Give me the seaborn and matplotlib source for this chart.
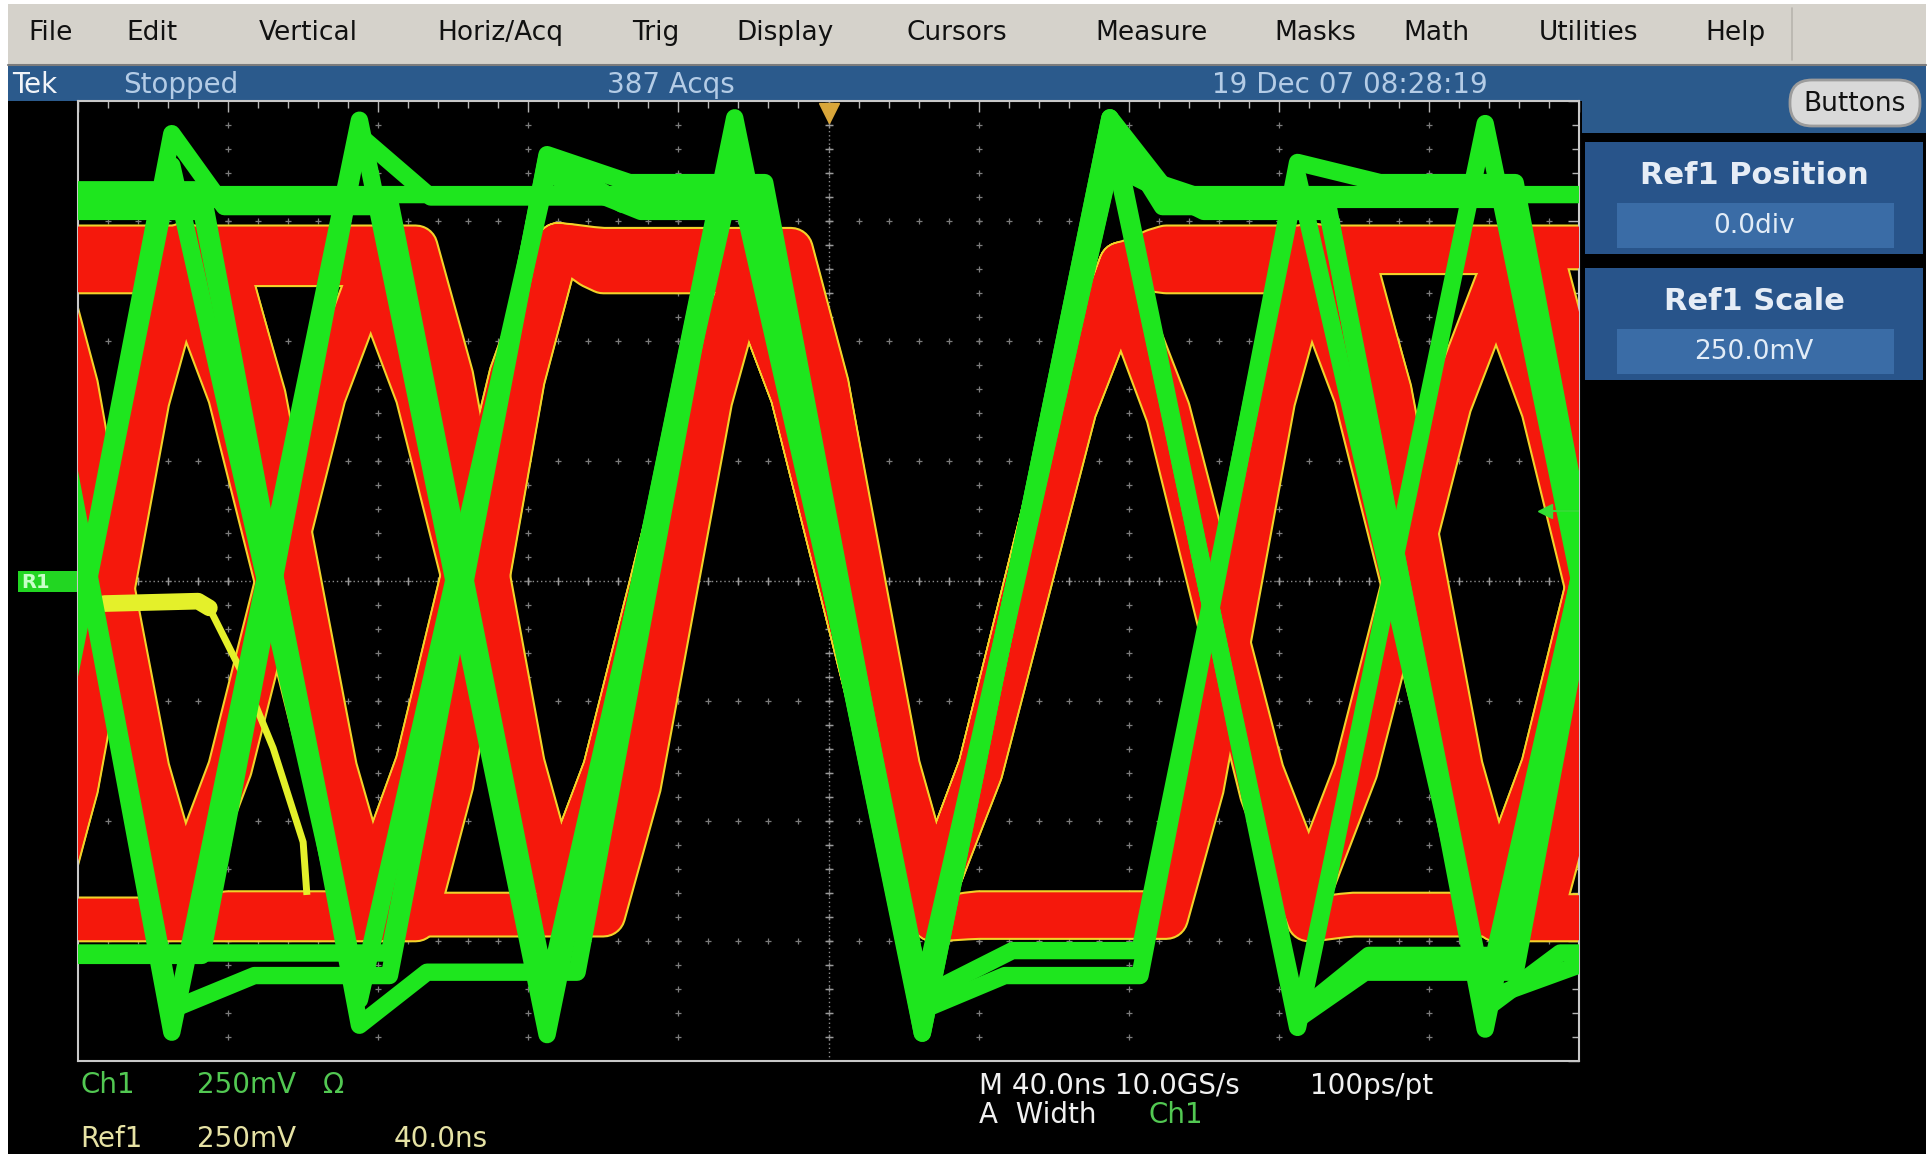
import numpy as np
import pandas as pd
import seaborn as sns
import matplotlib
matplotlib.use('Agg')
from matplotlib import pyplot as plt
from matplotlib.patches import Rectangle, FancyBboxPatch

# ---- screen texts ----
menu_labels = ['File', 'Edit', 'Vertical', 'Horiz/Acq', 'Trig', 'Display',
               'Cursors', 'Measure', 'Masks', 'Math', 'Utilities', 'Help']
status_labels = ['Tek', 'Stopped', '387 Acqs', '19 Dec 07 08:28:19']
panel_titles = ['Ref1 Position', 'Ref1 Scale']
panel_values = ['0.0div', '250.0mV']
ch1_readout = ['Ch1', '250mV', 'Ω']
ref1_readout = ['Ref1', '250mV', '40.0ns']
horiz_readout = ['M 40.0ns 10.0GS/s', '100ps/pt']
trig_readout = ['A  Width', 'Ch1']

# ---- scope data ----
ns_per_div = 40
mv_per_div = 250
bit_ns = 50  # spacing of the eye crossings

# bit before the screen, the 8 bits on screen, bit after
bits_a = [1, 1, 1, 1, 1, 0, 1, 1, 1, 1]
bits_b = [0, 1, 0, 1, 1, 0, 0, 1, 0, 1]
bits_c = [1, 0, 1, 0, 1, 0, 1, 0, 1, 0]
bits_d = [0, 0, 0, 1, 1, 0, 1, 1, 0, 0]
bits_e = [1, 1, 0, 0, 1, 0, 1, 0, 0, 1]
bits_f = [1, 1, 1, 0, 1, 0, 1, 1, 1, 0]
bits_f2 = [1, 1, 1, 0, 1, 0, 1, 1, 1, 1]
bits_g = [0, 1, 1, 0, 1, 0, 1, 1, 0, 1]
bits_h = [1, 0, 0, 1, 1, 0, 0, 1, 1, 0]
bits_i = [0, 0, 1, 1, 1, 0, 1, 0, 0, 1]
bits_j = [1, 1, 0, 1, 1, 0, 1, 1, 0, 0]

# Ch1 (green), mV / ns: settled level, share of overshoot and settling time
# per trace, overshoot tip per bit slot
ch1_bits = [bits_a, bits_b, bits_c, bits_d, bits_e, bits_f,
            bits_g, bits_h, bits_i, bits_j]
ch1_high = [805, 775, 825, 785, 815, 795, 780, 830, 800, 770]
ch1_low = [-785, -770, -810, -775, -815, -795, -772, -822, -780, -800]
ch1_over = [1.0, 0.55, 1.0, 0.7, 0.85, 0.4, 0.95, 0.6, 0.8, 0.5]
ch1_settle = [16, 24, 12, 20, 18, 26, 14, 22, 19, 25]
ch1_peak = [940, 940, 960, 927, 965, 950, 965, 900, 953, 953]
ch1_trough = [-940, -940, -945, -945, -940, -942, -940, -930, -942, -942]
ch1_edge = []  # straight edges

# Ref1 (red), mV / ns
ref_bits = [bits_b, bits_c, bits_d, bits_e, bits_f2, bits_g, bits_h, bits_j]
ref_high = [690, 640, 670, 650, 695, 660, 685, 645]
ref_low = [-700, -690, -705, -695, -700, -710, -692, -698]
ref_over = [1.0, 1.0, 1.0, 1.0, 1.0, 1.0, 1.0, 1.0]
ref_settle = [12, 12, 12, 12, 12, 12, 12, 12]
ref_peak = [700, 700, 700, 700, 700, 700, 660, 700, 675, 675]
ref_trough = [-705, -705, -705, -705, -705, -705, -705, -705, -705, -705]
ref_edge = [0.2, 0.5, 0.8]  # share of the swing at 1/4, 1/2, 3/4 of an edge

# short yellow trace at the left (ns, mV)
yel_t = [-193, -168, -165, -156, -148, -140, -139]
yel_v = [-47, -42, -56, -196, -348, -544, -654]


def trace(bits, high, low, over, settle, peaks, troughs, shift, depart, pulse, edge):
    # corner points of one acquisition: bit centres, settle and departure points
    pts = []
    n = len(bits)
    for k, b in enumerate(bits):
        c = -225 + bit_ns * k + shift
        flat = high if b else low
        into = k > 0 and bits[k - 1] != b
        out = k + 1 < n and bits[k + 1] != b
        if into:
            tip = flat + over * ((peaks[k] if b else troughs[k]) - flat)
            pts.append((c, tip * pulse if out else tip, True))
            if not out and k + 1 < n:
                pts.append((c + settle, flat, False))
        else:
            pts.append((c, flat, False))
            if out:
                pts.append((c + depart, flat, True))
    t, v = [], []
    for i, (ti, vi, starts_edge) in enumerate(pts):
        t.append(ti)
        v.append(vi)
        if starts_edge and i + 1 < len(pts) and edge:
            tn, vn, _ = pts[i + 1]
            for j, f in enumerate(edge, start=1):
                t.append(ti + (tn - ti) * j / (len(edge) + 1))
                v.append(vi + (vn - vi) * f)
    return t, v


def frame(all_bits, highs, lows, overs, settles, peaks, troughs, **kw):
    parts = []
    rows = zip(all_bits, highs, lows, overs, settles)
    for i, (bits, hi, lo, ov, st) in enumerate(rows):
        t, v = trace(bits, hi, lo, ov, st, peaks, troughs, **kw)
        parts.append(pd.DataFrame({'t': t, 'v': v, 'trace': i}))
    return pd.concat(parts, ignore_index=True)


ch1 = frame(ch1_bits, ch1_high, ch1_low, ch1_over, ch1_settle, ch1_peak,
            ch1_trough, shift=0, depart=8, pulse=1.0, edge=ch1_edge)
ref = frame(ref_bits, ref_high, ref_low, ref_over, ref_settle, ref_peak,
            ref_trough, shift=3, depart=12, pulse=0.92, edge=ref_edge)

GREEN = '#1ee61e'
RED = '#f5180c'
EDGE = '#f2d22a'
BLUE = '#2b5a8c'

sns.set_style('dark', {'axes.facecolor': 'black'})
plt.rcParams['font.family'] = ['DejaVu Sans']

W, H = 1932, 1154
fig = plt.figure(figsize=(W / 100, H / 100), dpi=100)
fig.patch.set_facecolor('white')

# ---- window chrome (pixel coords) ----
bg = fig.add_axes([0, 0, 1, 1])
bg.set_xlim(0, W)
bg.set_ylim(H, 0)
bg.axis('off')
bg.add_patch(Rectangle((8, 4), 1918, 61, fc='#d5d2cb', ec='none'))
bg.plot([8, 1926], [65, 65], color='#7c7c7c', lw=1.5)
bg.plot([1792, 1792], [8, 60], color='#b8b5ae', lw=1.2)
bg.add_patch(Rectangle((8, 66), 1918, 35, fc=BLUE, ec='none'))
bg.add_patch(Rectangle((8, 101), 1918, H - 101, fc='black', ec='none'))
bg.add_patch(Rectangle((1582, 101), 344, 32, fc=BLUE, ec='none'))

menu_x = [28, 126, 259, 437, 632, 736, 906, 1095, 1274, 1403, 1539, 1705]
for x, s in zip(menu_x, menu_labels):
    bg.text(x, 33, s, fontsize=19, color='#111111', va='center', ha='left')

status_x = [12, 123, 607, 1212]
status_c = ['#f2f4f8', '#b4cce6', '#b4cce6', '#b4cce6']
for x, s, c in zip(status_x, status_labels, status_c):
    bg.text(x, 85, s, fontsize=20, color=c, va='center', ha='left')

bg.add_patch(FancyBboxPatch((1790, 80), 130, 46,
                            boxstyle='round,pad=0,rounding_size=22',
                            fc='#d9d9d9', ec='#9c9c9c', lw=2))
bg.text(1855, 104, 'Buttons', fontsize=19, color='#111111', ha='center', va='center')

for top, title, val in zip([142, 268], panel_titles, panel_values):
    bg.add_patch(Rectangle((1585, top), 338, 112, fc='#28548a', ec='none'))
    bg.add_patch(Rectangle((1617, top + 61), 277, 45, fc='#3a6ca6', ec='none'))
    bg.text(1754, top + 33, title, fontsize=22, fontweight='bold',
            color='#e6edf6', ha='center', va='center')
    bg.text(1754, top + 84, val, fontsize=19, color='#e2ecf7',
            ha='center', va='center')

# R1 ground marker at the left of the graticule
bg.add_patch(Rectangle((18, 571), 60, 21, fc='#22d622', ec='none'))
bg.text(21, 582, 'R1', fontsize=14, fontweight='bold', color='#c8ffc8',
        ha='left', va='center')

# readouts below the graticule
for x, s in zip([80, 197, 323], ch1_readout):
    bg.text(x, 1085, s, fontsize=20, color='#52c852', ha='left', va='center')
for x, s in zip([80, 197, 394], ref1_readout):
    bg.text(x, 1139, s, fontsize=20, color='#e6e2a4', ha='left', va='center')
for x, s in zip([979, 1310], horiz_readout):
    bg.text(x, 1086, s, fontsize=20, color='#f0f0f0', ha='left', va='center')
bg.text(979, 1115, trig_readout[0], fontsize=20, color='#f0f0f0', ha='left', va='center')
bg.text(1149, 1115, trig_readout[1], fontsize=20, color='#52c852', ha='left', va='center')

# ---- graticule ----
ax = fig.add_axes([78 / W, (H - 1061) / H, 1501 / W, 960 / H])
ax.set_facecolor('black')
xmin, xmax = -5 * ns_per_div, 5 * ns_per_div
ymin, ymax = -4 * mv_per_div, 4 * mv_per_div

major_x = np.arange(xmin, xmax + 1, ns_per_div)
minor_x = np.arange(xmin, xmax + 1, ns_per_div / 5)
major_y = np.arange(ymin, ymax + 1, mv_per_div)
minor_y = np.arange(ymin, ymax + 1, mv_per_div / 5)

gx = [x for x in major_x[1:-1] for y in minor_y[1:-1]] + \
     [x for y in major_y[1:-1] for x in minor_x[1:-1]]
gy = [y for x in major_x[1:-1] for y in minor_y[1:-1]] + \
     [y for y in major_y[1:-1] for x in minor_x[1:-1]]
ax.plot(gx, gy, ls='none', marker='+', ms=4, mew=0.9, color='#7c7c7c', zorder=1)
ax.axhline(0, color='#8c8c8c', lw=1, ls=(0, (1, 2)), zorder=1)
ax.axvline(0, color='#8c8c8c', lw=1, ls=(0, (1, 2)), zorder=1)
ax.plot(minor_x, np.zeros_like(minor_x), ls='none', marker='|', ms=6,
        mew=1, color='#9a9a9a', zorder=1)
ax.plot(np.zeros_like(minor_y), minor_y, ls='none', marker='_', ms=6,
        mew=1, color='#9a9a9a', zorder=1)

# ---- waveforms ----
join = dict(solid_joinstyle='round', solid_capstyle='butt')
sns.lineplot(data=ref, x='t', y='v', units='trace', estimator=None, sort=False,
             color=EDGE, linewidth=33, ax=ax, legend=False, zorder=2, **join)
sns.lineplot(data=ref, x='t', y='v', units='trace', estimator=None, sort=False,
             color=RED, linewidth=30, ax=ax, legend=False, zorder=3, **join)
ax.plot(yel_t, yel_v, color='#e4f02a', lw=5, zorder=4, **join)
ax.plot(yel_t[:3], yel_v[:3], color='#e4f02a', lw=12, zorder=4)
sns.lineplot(data=ch1, x='t', y='v', units='trace', estimator=None, sort=False,
             color=GREEN, linewidth=12.5, ax=ax, legend=False, zorder=5, **join)

# markers on the graticule
ax.plot(0, 975, marker='v', ms=14, color='#d9a63a', clip_on=False, zorder=6)
ax.plot([191, 200], [146, 146], color='#33dd33', lw=1.5, zorder=6)
ax.plot(191, 146, marker='<', ms=10, color='#33dd33', zorder=6)
ax.plot(-2, 40, marker='o', ms=4, color=GREEN, zorder=6)

ax.set_xlim(xmin, xmax)
ax.set_ylim(ymin, ymax)
ax.set_xlabel('')
ax.set_ylabel('')
ax.set_xticks(major_x)
ax.set_yticks(major_y)
ax.set_xticks(minor_x, minor=True)
ax.set_yticks(minor_y, minor=True)
ax.grid(False)
ax.tick_params(which='both', direction='in', top=True, right=True,
               labelbottom=False, labelleft=False, color='#b4b4b4', width=1)
ax.tick_params(which='major', length=8)
ax.tick_params(which='minor', length=5)
for s in ax.spines.values():
    s.set_color('#c8c8c8')
    s.set_linewidth(1.5)

fig.savefig('out.png', dpi=100, facecolor='white')
